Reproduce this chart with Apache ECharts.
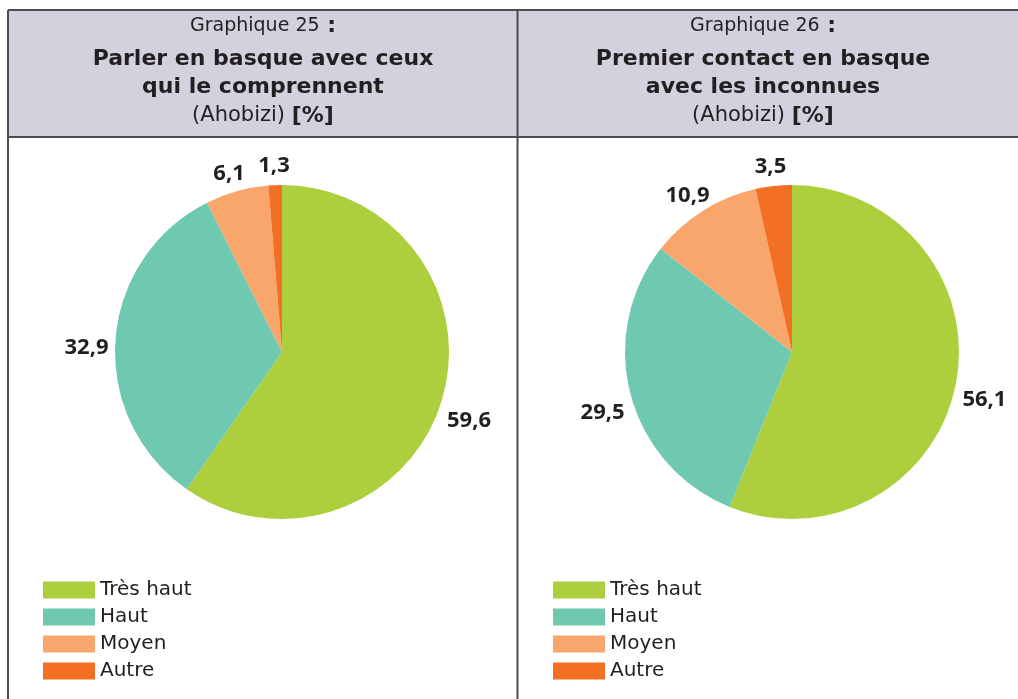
<!DOCTYPE html>
<html>
<head>
<meta charset="utf-8">
<script src="https://cdn.jsdelivr.net/npm/echarts@6/dist/echarts.min.js"></script>
<style>
  html, body { margin: 0; padding: 0; background: #fff; }
  #main { width: 1018px; height: 699px; }
</style>
</head>
<body>
<div id="main"></div>
<script>
  // categories + values of both pies
  var categories = ['Très haut', 'Haut', 'Moyen', 'Autre'];
  var valuesG25 = [59.6, 32.9, 6.1, 1.3];
  var valuesG26 = [56.1, 29.5, 10.9, 3.5];
  var colors = ['#aecf3d', '#6fc8b0', '#f8a66b', '#f36f23'];

  var FONT = '"DejaVu Sans", sans-serif';
  var NUMFONT = '"Open Sans", "Noto Sans", sans-serif';
  var INK = '#231f20';

  function toData(vals) {
    return categories.map(function (c, i) { return { name: c, value: vals[i] }; });
  }

  function pie(center, vals) {
    return {
      type: 'pie',
      center: center,
      radius: 167,
      startAngle: 90,
      clockwise: true,
      animation: false,
      silent: true,
      itemStyle: { borderWidth: 0 },
      label: { show: false },
      labelLine: { show: false },
      data: toData(vals)
    };
  }

  // invisible ring around the pie, only used to place the value labels
  // (centre a bit lower, like the "best fit" labels of the original)
  function labelRing(center, vals) {
    return {
      type: 'pie',
      center: [center[0], center[1] + 10],
      radius: [175, 211],
      startAngle: 90,
      clockwise: true,
      animation: false,
      silent: true,
      legendHoverLink: false,
      itemStyle: { color: 'rgba(0,0,0,0)', borderWidth: 0 },
      label: {
        show: true,
        position: 'inside',
        rotate: 0,
        overflow: 'none',
        formatter: function (p) { return String(p.value).replace('.', ','); },
        fontFamily: NUMFONT,
        fontWeight: 'bold',
        fontSize: 22,
        color: INK
      },
      labelLine: { show: false },
      data: toData(vals)
    };
  }

  function legend(left) {
    return {
      orient: 'vertical',
      left: left,
      top: 580,
      padding: 0,
      itemWidth: 52,
      itemHeight: 17,
      itemGap: 7,
      icon: 'rect',
      selectedMode: false,
      textStyle: { fontFamily: FONT, fontSize: 20, lineHeight: 17, color: INK },
      data: categories
    };
  }

  function header(cx, title1, line2, line3) {
    var rich = {
      r: { fontFamily: FONT, fontSize: 19, fontWeight: 'normal', fill: INK, color: INK },
      b: { fontFamily: FONT, fontSize: 22, fontWeight: 'bold', fill: INK, color: INK },
      rl: { fontFamily: FONT, fontSize: 21, fontWeight: 'normal', fill: INK, color: INK }
    };
    function t(y, text) {
      return {
        type: 'text', x: cx, y: y, silent: true,
        style: { text: text, rich: rich, align: 'center', verticalAlign: 'middle',
                 font: '19px ' + FONT, fill: INK }
      };
    }
    return [
      t(26, '{r|' + title1 + '}{b| :}'),
      t(59, '{b|' + line2 + '}'),
      t(87, '{b|' + line3 + '}'),
      t(116, '{rl|(Ahobizi) }{b|[%]}')
    ];
  }

  var chart = echarts.init(document.getElementById('main'));

  var graphics = [
    { type: 'rect', shape: { x: 8, y: 10, width: 1012, height: 127 }, style: { fill: '#d3d1de' }, silent: true },
    { type: 'line', shape: { x1: 8, y1: 10, x2: 1018, y2: 10 }, style: { stroke: '#4d4d4f', lineWidth: 2 }, silent: true },
    { type: 'line', shape: { x1: 8, y1: 137, x2: 1018, y2: 137 }, style: { stroke: '#4d4d4f', lineWidth: 2 }, silent: true },
    { type: 'line', shape: { x1: 8, y1: 10, x2: 8, y2: 699 }, style: { stroke: '#4d4d4f', lineWidth: 2 }, silent: true },
    { type: 'line', shape: { x1: 517.5, y1: 10, x2: 517.5, y2: 699 }, style: { stroke: '#4d4d4f', lineWidth: 2 }, silent: true }
  ]
    .concat(header(263, 'Graphique 25', 'Parler en basque avec ceux', 'qui le comprennent'))
    .concat(header(763, 'Graphique 26', 'Premier contact en basque', 'avec les inconnues'));

  chart.setOption({
    color: colors,
    animation: false,
    legend: [legend(43), legend(553)],
    graphic: graphics,
    series: [
      pie([282, 352], valuesG25),
      pie([792, 352], valuesG26),
      labelRing([282, 352], valuesG25),
      labelRing([792, 352], valuesG26)
    ]
  });
</script>
</body>
</html>
